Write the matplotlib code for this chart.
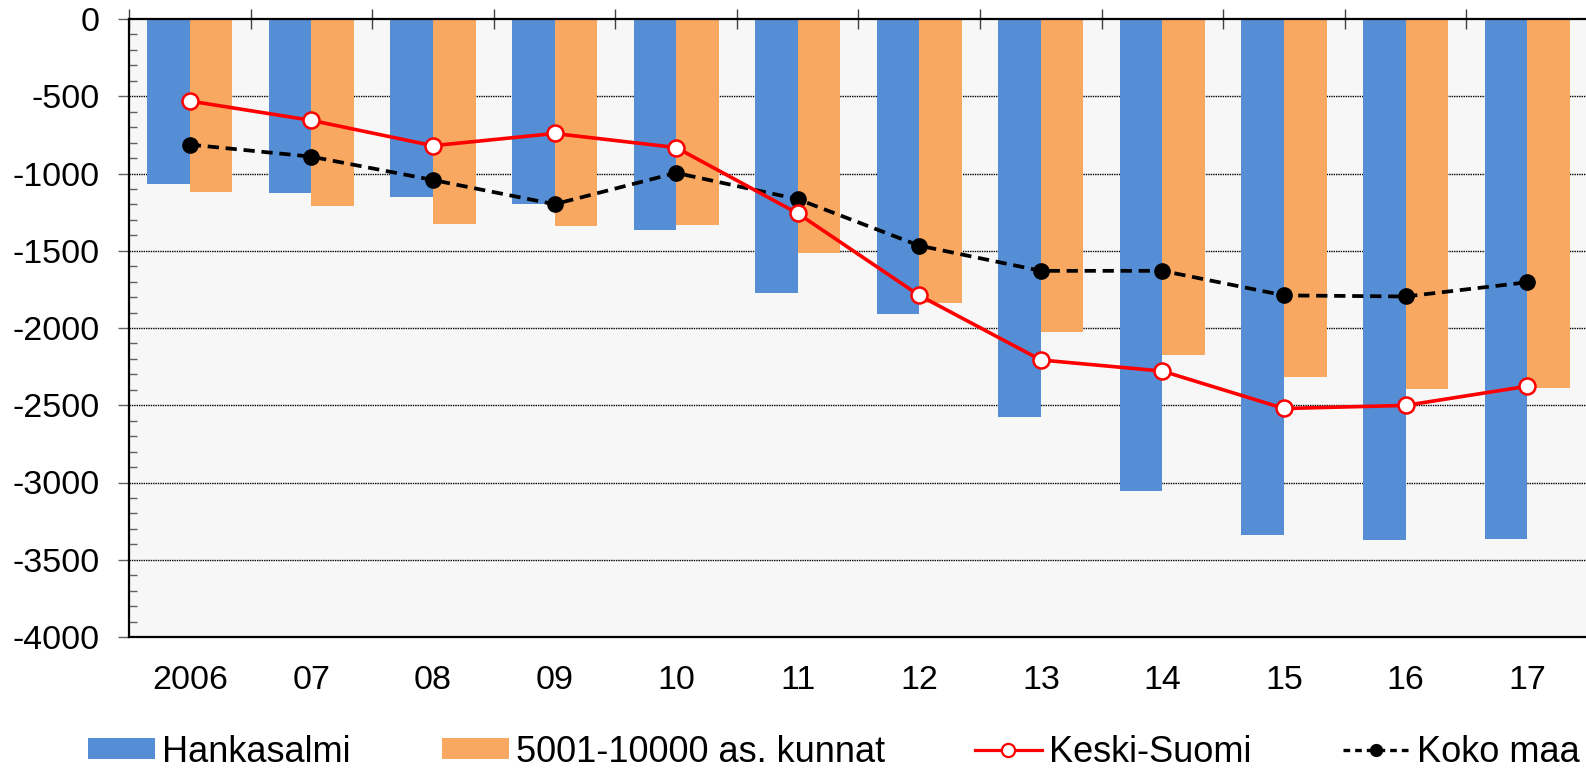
import matplotlib
matplotlib.use('Agg')
import matplotlib.pyplot as plt
from matplotlib.lines import Line2D
import numpy as np

plt.rcParams['font.family'] = ['Liberation Sans', 'DejaVu Sans']
plt.rcParams['axes.unicode_minus'] = False

years = ['2006', '07', '08', '09', '10', '11', '12', '13', '14', '15', '16', '17']
hankasalmi = [-1068, -1127, -1153, -1199, -1363, -1775, -1912, -2573, -3058, -3339, -3372, -3365]
kunnat = [-1121, -1212, -1330, -1343, -1336, -1513, -1840, -2024, -2174, -2318, -2397, -2390]
keski_suomi = [-531, -656, -820, -741, -832, -1258, -1789, -2207, -2279, -2521, -2501, -2377]
koko_maa = [-813, -891, -1042, -1199, -996, -1166, -1467, -1630, -1630, -1789, -1796, -1704]

blue = '#558ED5'
orange = '#F9A862'

fig = plt.figure(figsize=(15.86, 7.68), dpi=100)
ax = fig.add_axes([129 / 1586, 1 - 637 / 768, 1459 / 1586, 618 / 768])
ax.set_facecolor('#F7F7F7')

x = np.arange(len(years))
w = 0.35
b1 = ax.bar(x - w / 2, hankasalmi, w, color=blue, label='Hankasalmi', zorder=2)
b2 = ax.bar(x + w / 2, kunnat, w, color=orange, label='5001-10000 as. kunnat', zorder=2)
ax.plot(x, keski_suomi, color='#FF0000', lw=2.6, marker='o', ms=11.5,
        mfc='white', mec='#FF0000', mew=1.8, zorder=4)
ax.plot(x, koko_maa, color='black', lw=2.7, ls=(0, (3, 1.8)), marker='o', ms=11,
        mfc='black', mec='black', zorder=3)

ax.set_xlim(-0.5, len(years) - 0.5)
ax.set_ylim(-4000, 0)

# gridlines
for v in range(-3500, 0, 500):
    ax.axhline(v, color='black', lw=1.0, ls=(0, (1, 0.7)), zorder=1)

ax.set_yticks(range(-4000, 1, 500))
ax.set_yticks(range(-4000, 1, 100), minor=True)
ax.tick_params(axis='y', which='major', direction='out', length=8, width=1,
               color='#606060', labelsize=24.5, pad=13)
ax.tick_params(axis='y', which='minor', direction='in', length=5.5, width=1,
               color='#606060')

ax.set_xticks(x)
ax.set_xticklabels(years)
ax.set_xticks(np.arange(-0.5, len(years)), minor=True)
ax.tick_params(axis='x', which='major', length=0, labelsize=24.5, pad=20)
ax.tick_params(axis='x', which='minor', top=True, bottom=False, direction='inout',
               length=15, width=1, color='#404040')

for s in ['left', 'top', 'bottom']:
    ax.spines[s].set_color('black')
    ax.spines[s].set_linewidth(1.6)
ax.spines['right'].set_visible(False)

# legend handles
h3 = Line2D([], [], color='#FF0000', lw=2.3, marker='o', ms=9.5,
            mfc='white', mec='#FF0000', mew=1.6)
h4 = Line2D([], [], color='black', lw=2.4, ls=(0, (2.0, 1.5)), marker='o', ms=8.5,
            mfc='black', mec='black')
handles = [b1, b2, h3, h4]
labels = ['Hankasalmi', '5001-10000 as. kunnat', 'Keski-Suomi', 'Koko maa']
xs = [88, 442, 975, 1343]
for h, lab, xp in zip(handles, labels, xs):
    fig.legend(handles=[h], labels=[lab], loc='center left',
               bbox_to_anchor=(xp / 1586, 1 - 752 / 768), frameon=False,
               fontsize=26, handlelength=1.85, handleheight=0.5,
               handletextpad=0.2, borderpad=0, borderaxespad=0)

fig.savefig('out.png', dpi=100)
